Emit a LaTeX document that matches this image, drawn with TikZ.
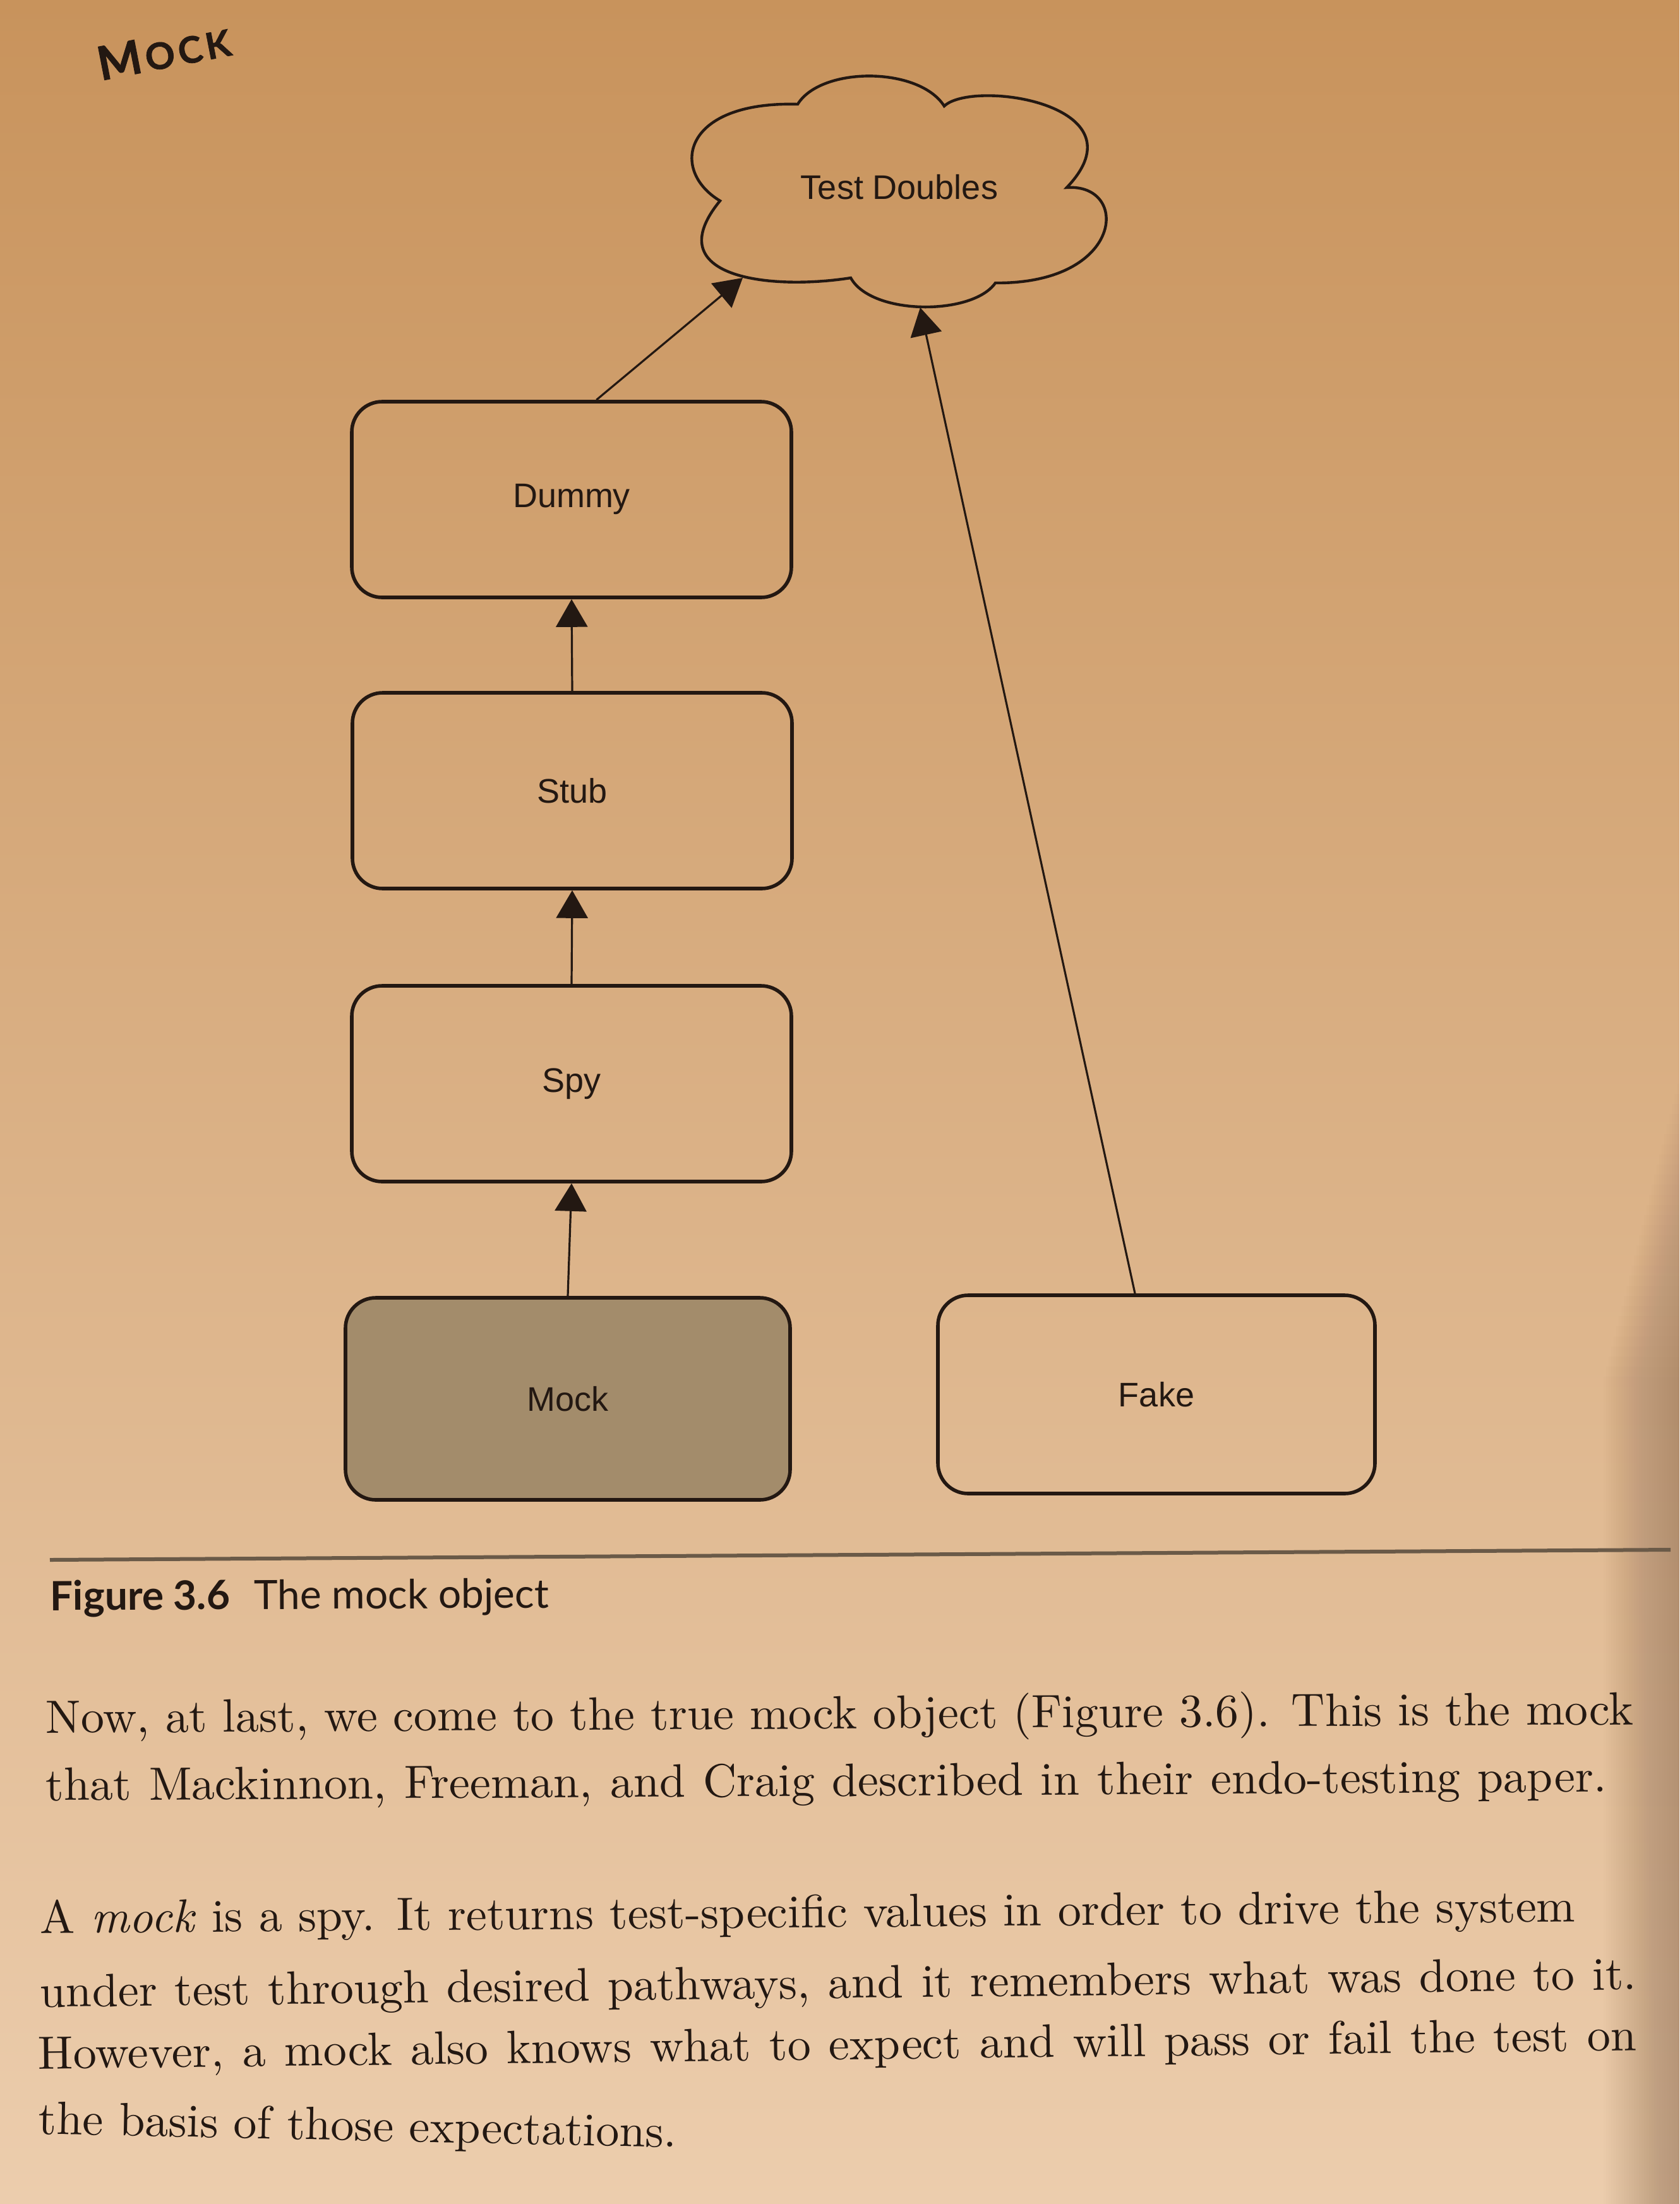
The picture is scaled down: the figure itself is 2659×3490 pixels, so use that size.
\documentclass[tikz,border=0pt]{standalone}
\usepackage{fontspec}
\newfontfamily\diagfont{Liberation Sans}
\newfontfamily\capfont{Lato}
\newfontfamily\headfont{Lato}[BoldFeatures={FakeBold=1.2}]
\newfontfamily\bodyfont{lmroman10-regular.otf}[ItalicFont=lmroman10-italic.otf]
\usetikzlibrary{arrows.meta}

\definecolor{ink}{HTML}{231812}
\definecolor{rulecol}{HTML}{6A5A48}
\definecolor{mockfill}{HTML}{A38C6B}
\definecolor{pagetop}{HTML}{C8935C}
\definecolor{pagemid}{HTML}{DCAE7F}
\definecolor{pagebot}{HTML}{ECCDAD}
\definecolor{pageedge}{HTML}{6B4A30}

\begin{document}
\begin{tikzpicture}[x=0.25pt, y=-0.25pt,
  box/.style={draw=ink, line width=1.4pt, rounded corners=12pt,
    minimum width=174pt, minimum height=77.5pt, text=ink,
    font=\diagfont\fontsize{13.5}{16}\selectfont},
  mockbox/.style={box, fill=mockfill},
  link/.style={draw=ink, line width=0.8pt, -{Triangle[length=11pt,width=12.5pt]}},
  bodyline/.style={anchor=base west, inner sep=0pt, text=ink,
    font=\bodyfont\fontsize{18.5}{22}\selectfont},
]

% page
\shade[top color=pagetop, middle color=pagemid, bottom color=pagebot]
  (0,0) rectangle (2659,3490);
% shadow along the right-hand edge, growing toward the bottom
\foreach \i in {1,...,30}
  \fill[pageedge, opacity=0.012] ({2659-4*\i},{1700+16*\i}) rectangle (2659,3490);
\useasboundingbox (0,0) rectangle (2659,3490);

% running head
\node[anchor=base west, rotate=11, inner sep=0pt, text=ink, font=\headfont\bfseries]
  (hdr) at (159,128)
  {\fontsize{18.5}{20}\selectfont M\hspace{1.5pt}\fontsize{14.5}{16}\selectfont O\hspace{1.5pt}C\hspace{1.5pt}K};

% cloud
\draw[ink, line width=1.1pt]
  (1140,318) .. controls (1060,270) and (1080,160) .. (1263,165)
  .. controls (1300,105) and (1455,105) .. (1495,168)
  .. controls (1540,125) and (1815,165) .. (1689,297)
  .. controls (1790,290) and (1780,450) .. (1576,448)
  .. controls (1540,500) and (1380,500) .. (1347,440)
  .. controls (1220,460) and (1040,440) .. cycle;
\node[anchor=base, inner sep=0pt, text=ink, font=\diagfont\fontsize{13.5}{16}\selectfont]
  (td) at (1424,315) {Test Doubles};
\coordinate (tdA) at (1176,440);
\coordinate (tdB) at (1457,487);

% boxes
\node[box] (dummy) at (905,791) {Dummy};
\node[box] (stub) at (906,1252) {Stub};
\node[box] (spy) at (905,1716) {Spy};
\node[mockbox, minimum width=176pt, minimum height=80pt] (mock) at (899,2215) {Mock};
\node[box, minimum width=173pt, minimum height=78.5pt] (fake) at (1831,2208) {Fake};

% connectors
\draw[link] (dummy.76) -- (tdA);
\draw[link] (stub.north) -- (dummy.south);
\draw[link] (spy.north) -- (stub.south);
\draw[link] (mock.north) -- (spy.south);
\draw[link] (fake.102) -- (tdB);

% caption
\draw[rulecol, line width=1.5pt] (79,2470) -- (2645,2454);
\node[anchor=base west, rotate=0.3, inner sep=0pt, text=ink,
  font=\capfont\fontsize{16}{18}\selectfont] (cap) at (79,2550)
  {\textbf{Figure 3.6}\hspace{0.6em}The mock object};

% body text
\node[bodyline, rotate=0.3] (p1) at (72,2744)
  {\makebox[628.5pt][s]{Now, at last, we come to the true mock object (Figure 3.6). This is the mock}};
\node[bodyline, rotate=0.32] (p2) at (72,2851)
  {\makebox[617.75pt][s]{that Mackinnon, Freeman, and Craig described in their endo-testing paper.}};
\node[bodyline, rotate=0.42] (p3) at (63,3061)
  {\makebox[607.75pt][s]{A \textit{mock} is a spy. It returns test-specific values in order to drive the system}};
\node[bodyline, rotate=0.63] (p4) at (63,3178)
  {\makebox[632pt][s]{under test through desired pathways, and it remembers what was done to it.}};
\node[bodyline, rotate=0.66] (p5) at (60,3276)
  {\makebox[632.75pt][s]{However, a mock also knows what to expect and will pass or fail the test on}};
\node[bodyline, rotate=-1.2] (p6) at (60,3379) {the basis of those expectations.};

\end{tikzpicture}
\end{document}
